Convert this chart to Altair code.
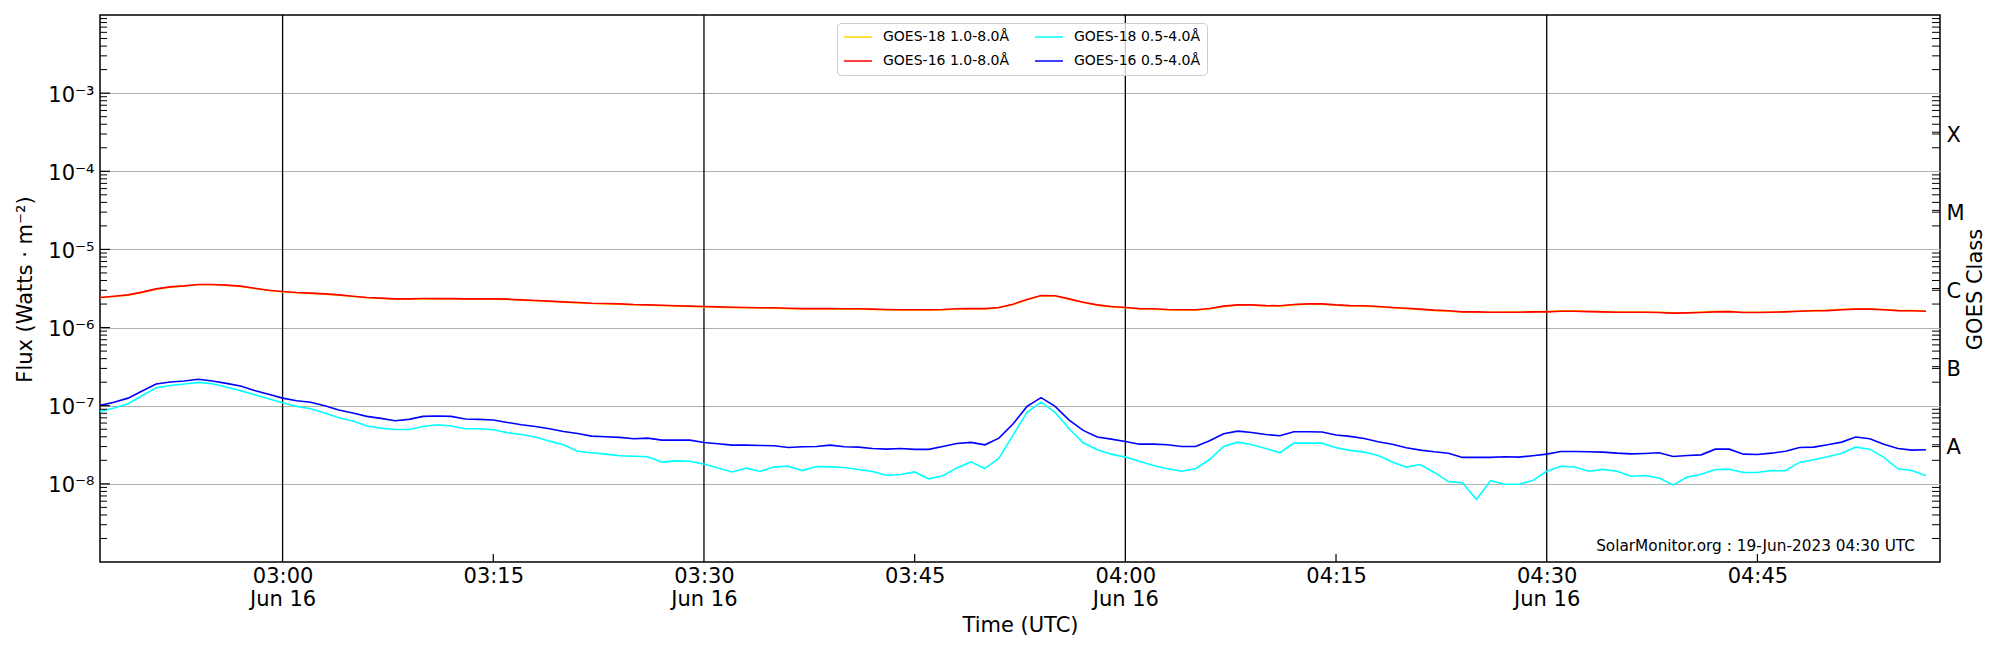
import altair as alt
import pandas as pd

# ------------------------------------------------------------------ data
# 1-minute GOES X-ray flux, 16 Jun 2023, 02:47 -> 04:57 UTC
START = "2023-06-16 02:47"

# legend fills column by column: col 1 = 1.0-8.0 Å, col 2 = 0.5-4.0 Å
SERIES = ["GOES-18 1.0-8.0Å", "GOES-16 1.0-8.0Å", "GOES-18 0.5-4.0Å", "GOES-16 0.5-4.0Å"]
COLORS = ["#ffd700", "#ff0000", "#00ffff", "#0000ff"]

# 1.0-8.0 Å channel, in units of 1e-6 W m^-2
G18_LONG = [
    2.41, 2.50, 2.60, 2.81, 3.10, 3.29, 3.40, 3.53, 3.53, 3.46,
    3.36, 3.16, 2.98, 2.87, 2.79, 2.74, 2.68, 2.60, 2.50, 2.41,
    2.36, 2.31, 2.31, 2.33, 2.33, 2.33, 2.31, 2.31, 2.31, 2.29,
    2.24, 2.20, 2.16, 2.11, 2.07, 2.03, 2.01, 1.99, 1.95, 1.93,
    1.91, 1.88, 1.86, 1.84, 1.82, 1.80, 1.79, 1.77, 1.77, 1.75,
    1.73, 1.73, 1.73, 1.72, 1.72, 1.70, 1.68, 1.67, 1.67, 1.67,
    1.68, 1.72, 1.73, 1.73, 1.79, 1.97, 2.27, 2.55, 2.53, 2.31,
    2.09, 1.93, 1.84, 1.79, 1.73, 1.72, 1.68, 1.67, 1.67, 1.73,
    1.86, 1.93, 1.93, 1.89, 1.88, 1.95, 1.99, 1.99, 1.93, 1.89,
    1.88, 1.84, 1.79, 1.75, 1.70, 1.65, 1.62, 1.58, 1.58, 1.57,
    1.58, 1.58, 1.60, 1.60, 1.64, 1.64, 1.62, 1.60, 1.58, 1.58,
    1.58, 1.57, 1.54, 1.55, 1.58, 1.61, 1.62, 1.57, 1.57, 1.58,
    1.60, 1.63, 1.65, 1.67, 1.71, 1.74, 1.74, 1.70, 1.66, 1.65,
    1.63,
]
G16_LONG = [
    2.43, 2.52, 2.62, 2.84, 3.13, 3.32, 3.42, 3.56, 3.56, 3.49,
    3.39, 3.19, 3.01, 2.89, 2.81, 2.76, 2.70, 2.62, 2.52, 2.43,
    2.38, 2.33, 2.33, 2.35, 2.35, 2.35, 2.33, 2.33, 2.33, 2.31,
    2.26, 2.22, 2.18, 2.13, 2.09, 2.05, 2.03, 2.01, 1.97, 1.95,
    1.93, 1.90, 1.88, 1.86, 1.84, 1.82, 1.81, 1.79, 1.79, 1.77,
    1.75, 1.75, 1.75, 1.74, 1.74, 1.72, 1.70, 1.69, 1.69, 1.69,
    1.70, 1.74, 1.75, 1.75, 1.81, 1.99, 2.29, 2.57, 2.55, 2.33,
    2.11, 1.95, 1.86, 1.81, 1.75, 1.74, 1.70, 1.69, 1.69, 1.75,
    1.88, 1.95, 1.95, 1.91, 1.90, 1.97, 2.01, 2.01, 1.95, 1.91,
    1.90, 1.86, 1.81, 1.77, 1.72, 1.67, 1.64, 1.59, 1.59, 1.57,
    1.57, 1.57, 1.59, 1.59, 1.62, 1.62, 1.60, 1.59, 1.57, 1.57,
    1.57, 1.56, 1.53, 1.54, 1.56, 1.59, 1.60, 1.56, 1.56, 1.57,
    1.59, 1.62, 1.64, 1.65, 1.69, 1.72, 1.72, 1.69, 1.65, 1.64,
    1.62,
]
# 0.5-4.0 Å channel, in units of 1e-8 W m^-2
G18_SHORT = [
    8.46, 9.34, 10.6, 13.4, 17.0, 18.1, 19.0, 19.9, 19.1, 17.4,
    15.6, 13.8, 12.3, 10.9, 9.80, 9.15, 8.05, 7.02, 6.36, 5.49,
    5.17, 4.97, 4.97, 5.43, 5.71, 5.49, 5.07, 5.07, 4.92, 4.51,
    4.29, 3.97, 3.52, 3.16, 2.62, 2.50, 2.40, 2.29, 2.26, 2.22,
    1.90, 1.97, 1.95, 1.79, 1.60, 1.42, 1.59, 1.44, 1.65, 1.68,
    1.48, 1.67, 1.65, 1.62, 1.53, 1.44, 1.29, 1.32, 1.42, 1.16,
    1.27, 1.60, 1.91, 1.57, 2.13, 4.21, 8.21, 11.1, 8.21, 5.07,
    3.36, 2.73, 2.40, 2.20, 1.95, 1.72, 1.56, 1.45, 1.56, 2.05,
    3.01, 3.42, 3.16, 2.84, 2.50, 3.32, 3.32, 3.32, 2.89, 2.68,
    2.55, 2.31, 1.91, 1.64, 1.77, 1.40, 1.07, 1.03, 0.63, 1.10,
    0.99, 0.99, 1.10, 1.45, 1.68, 1.64, 1.45, 1.53, 1.45, 1.25,
    1.28, 1.19, 0.97, 1.22, 1.33, 1.53, 1.54, 1.40, 1.40, 1.48,
    1.47, 1.88, 2.03, 2.22, 2.47, 2.95, 2.78, 2.18, 1.56, 1.48,
    1.27,
]
G16_SHORT = [
    10.1, 11.1, 12.5, 15.4, 19.0, 20.1, 20.7, 21.8, 20.7, 19.3,
    17.9, 15.7, 14.0, 12.5, 11.6, 11.1, 10.0, 8.80, 8.05, 7.30,
    6.88, 6.42, 6.68, 7.30, 7.37, 7.30, 6.75, 6.68, 6.55, 6.11,
    5.71, 5.43, 5.07, 4.68, 4.42, 4.08, 4.01, 3.93, 3.78, 3.85,
    3.63, 3.63, 3.63, 3.39, 3.26, 3.13, 3.13, 3.10, 3.07, 2.92,
    2.98, 3.01, 3.13, 2.98, 2.95, 2.84, 2.78, 2.84, 2.76, 2.76,
    3.01, 3.29, 3.39, 3.16, 3.85, 5.82, 9.80, 12.7, 9.80, 6.55,
    4.83, 3.97, 3.74, 3.49, 3.22, 3.22, 3.16, 3.01, 3.01, 3.56,
    4.38, 4.73, 4.55, 4.29, 4.12, 4.64, 4.64, 4.60, 4.21, 4.05,
    3.81, 3.45, 3.22, 2.89, 2.70, 2.57, 2.47, 2.18, 2.18, 2.18,
    2.22, 2.20, 2.29, 2.40, 2.60, 2.60, 2.57, 2.55, 2.47, 2.42,
    2.45, 2.50, 2.24, 2.31, 2.35, 2.78, 2.78, 2.40, 2.38, 2.47,
    2.62, 2.92, 2.95, 3.16, 3.42, 3.97, 3.78, 3.22, 2.84, 2.70,
    2.73,
]

Y_TICKS = [1e-8, 1e-7, 1e-6, 1e-5, 1e-4, 1e-3]
Y_TICK_LABELS = ["10⁻⁸", "10⁻⁷", "10⁻⁶", "10⁻⁵", "10⁻⁴", "10⁻³"]
CLASS_POS = [10 ** -3.5, 10 ** -4.5, 10 ** -5.5, 10 ** -6.5, 10 ** -7.5]
CLASS_LABELS = ["X", "M", "C", "B", "A"]
X_TICKS = [(3, 0), (3, 15), (3, 30), (3, 45), (4, 0), (4, 15), (4, 30), (4, 45)]
HALF_HOURS = ["2023-06-16T03:00:00Z", "2023-06-16T03:30:00Z",
              "2023-06-16T04:00:00Z", "2023-06-16T04:30:00Z"]
QUARTERS = ["2023-06-16T03:15:00Z", "2023-06-16T03:45:00Z",
            "2023-06-16T04:15:00Z", "2023-06-16T04:45:00Z"]
NOTE = ["SolarMonitor.org : 19-Jun-2023 04:30 UTC"]
LOG_MINOR = [m * 10.0 ** d for d in range(-9, -2) for m in range(2, 10)]

# ------------------------------------------------------------------ table
times = pd.date_range(START, periods=len(G16_LONG), freq="min").strftime("%Y-%m-%dT%H:%M:%SZ")
rows = []
for name, vals, unit in [
    ("GOES-18 1.0-8.0Å", G18_LONG, 1e-6),
    ("GOES-16 1.0-8.0Å", G16_LONG, 1e-6),
    ("GOES-18 0.5-4.0Å", G18_SHORT, 1e-8),
    ("GOES-16 0.5-4.0Å", G16_SHORT, 1e-8),
]:
    for t, v in zip(times, vals):
        rows.append({"time": t, "flux": v * unit, "series": name})
df = pd.DataFrame(rows)

# ------------------------------------------------------------------ layout
W, H = 1840, 547
FONT = "DejaVu Sans"
FS = 21


def dt(h, m):
    return alt.DateTime(year=2023, month=6, date=16, hours=h, minutes=m, utc=True)


xscale = alt.Scale(type="utc", domain=[dt(2, 47), dt(4, 58)], nice=False)
x_label_expr = (
    "(utcFormat(datum.value, '%M') == '00' || utcFormat(datum.value, '%M') == '30') ? "
    "[utcFormat(datum.value, '%H:%M'), utcFormat(datum.value, '%b %d')] : "
    "utcFormat(datum.value, '%H:%M')"
)
x_axis = alt.Axis(
    values=[dt(h, m) for h, m in X_TICKS], labelExpr=x_label_expr,
    title="Time (UTC)", ticks=False, tickSize=0, domain=False, grid=False,
    labelFontSize=FS, labelPadding=3, labelLineHeight=23, labelBaseline="top",
    labelAlign="center", labelFlush=False, labelOverlap=False, labelColor="black",
    titleFontSize=FS, titleFontWeight="normal", titleColor="black",
    titleY=63, titleBaseline="middle",
)
xenc = alt.X("time:T", scale=xscale, axis=x_axis)


def yscale():
    return alt.Scale(type="log", domain=[1e-9, 1e-2], nice=False)


y_label_expr = "[" + ",".join("'%s'" % s for s in Y_TICK_LABELS) + "][round(log(datum.value)/LN10) + 8]"
y_axis = alt.Axis(
    values=Y_TICKS, labelExpr=y_label_expr, grid=True, gridColor="#b0b0b0", gridWidth=1,
    ticks=False, tickSize=0, domain=False, labelFontSize=FS, labelPadding=6,
    labelOffset=2, labelColor="black", labelBaseline="middle",
    title="Flux (Watts · m⁻²)", titleFontSize=FS, titleFontWeight="normal",
    titleColor="black", titleX=-75, titleY=274, titleAngle=270,
    titleAlign="center", titleBaseline="middle",
)

class_expr = ""
for pos, lab in zip(CLASS_POS[:-1], CLASS_LABELS[:-1]):
    class_expr += "datum.value > %g ? '%s' : " % (pos / 3.0, lab)
class_expr += "'%s'" % CLASS_LABELS[-1]
right_axis = alt.Axis(
    orient="right", values=CLASS_POS, labelExpr=class_expr, grid=False,
    ticks=False, tickSize=0, domain=False, labelFontSize=FS, labelPadding=6,
    labelOffset=3, labelColor="black", labelBaseline="middle",
    title="GOES Class", titleFontSize=FS, titleFontWeight="normal",
    titleColor="black", titleX=35, titleY=274, titleAngle=270,
    titleAlign="center", titleBaseline="middle",
)

lines = alt.Chart(df).mark_line(strokeWidth=1.6, clip=True).encode(
    x=xenc,
    y=alt.Y("flux:Q", scale=yscale(), axis=y_axis),
    color=alt.Color(
        "series:N",
        scale=alt.Scale(domain=SERIES, range=COLORS),
        legend=alt.Legend(
            title=None, orient="none", legendX=737, legendY=8, columns=2,
            symbolType="stroke", symbolSize=784, symbolStrokeWidth=1.5,
            clipHeight=16, rowPadding=8, columnPadding=24, labelOffset=10,
            labelFontSize=14, labelFont=FONT, labelColor="black", labelLimit=400,
            padding=6, fillColor="rgba(255,255,255,0.8)", strokeColor="#cccccc",
            cornerRadius=4,
        ),
    ),
)

tick_df_major = pd.DataFrame({"v": Y_TICKS})
tick_df_minor = pd.DataFrame({"v": LOG_MINOR})
tick_df_right = pd.DataFrame({"v": LOG_MINOR + CLASS_POS})

left_major = alt.Chart(tick_df_major).mark_rule(color="black", strokeWidth=1.2).encode(
    y=alt.Y("v:Q", scale=yscale(), axis=None), x=alt.value(0), x2=alt.value(10))
left_minor = alt.Chart(tick_df_minor).mark_rule(color="black", strokeWidth=1.0).encode(
    y=alt.Y("v:Q", scale=yscale(), axis=None), x=alt.value(0), x2=alt.value(7))
right_ticks = alt.Chart(tick_df_right).mark_rule(color="black", strokeWidth=1.0).encode(
    y=alt.Y("v:Q", scale=yscale(), axis=right_axis), x=alt.value(W - 8), x2=alt.value(W))

vlines = alt.Chart(pd.DataFrame({"time": HALF_HOURS})).mark_rule(
    color="black", strokeWidth=1.3).encode(x=xenc)
bticks = alt.Chart(pd.DataFrame({"time": QUARTERS})).mark_rule(
    color="black", strokeWidth=1.2).encode(x=xenc, y=alt.value(H - 8), y2=alt.value(H))

note = alt.Chart(pd.DataFrame({"t": NOTE})).mark_text(
    align="right", baseline="alphabetic", fontSize=15.3, font=FONT, color="black"
).encode(x=alt.value(1815), y=alt.value(536), text="t:N")

chart = (
    alt.layer(vlines, lines, left_major, left_minor, right_ticks, bticks, note)
    .resolve_scale(y="independent")
    .properties(
        width=W, height=H,
        autosize=alt.AutoSizeParams(type="none"),
        padding={"left": 92, "top": 7, "right": 50, "bottom": 75},
    )
    .configure(font=FONT)
    .configure_view(stroke="black", strokeWidth=1.5)
)

chart.save("out.html", embed_options={"renderer": "svg", "actions": False})
